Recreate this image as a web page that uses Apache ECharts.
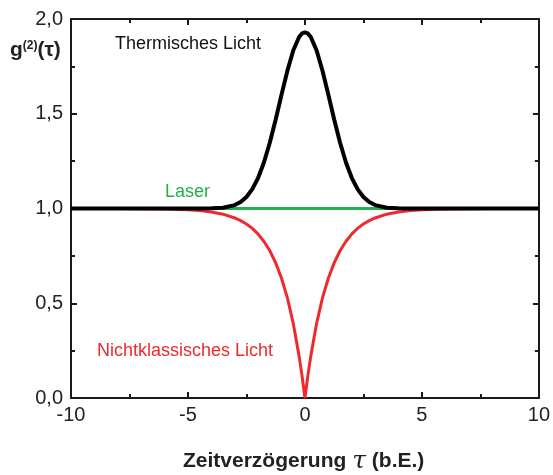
<!DOCTYPE html>
<html>
<head>
<meta charset="utf-8">
<script src="https://cdn.jsdelivr.net/npm/echarts@6/dist/echarts.min.js"></script>
<style>html,body{margin:0;padding:0;background:#fff}#c{width:553px;height:475px}</style>
</head>
<body>
<div id="c"></div>
<script>
// Time delay tau (arbitrary units)
var tau = [-10, -9, -8, -7, -6, -5, -4.5, -4, -3.5, -3, -2.75, -2.5, -2.25, -2, -1.75, -1.5, -1.25, -1, -0.75, -0.5, -0.25, -0.125, 0,
           0.125, 0.25, 0.5, 0.75, 1, 1.25, 1.5, 1.75, 2, 2.25, 2.5, 2.75, 3, 3.5, 4, 4.5, 5, 6, 7, 8, 9, 10];
// Thermal light g2
var thermal = [1, 1, 1, 1, 1, 1, 1, 1.001, 1.004, 1.018, 1.034, 1.061, 1.102, 1.162, 1.244, 1.348, 1.470, 1.601, 1.727, 1.834, 1.905, 1.924, 1.93,
               1.924, 1.905, 1.834, 1.727, 1.601, 1.470, 1.348, 1.244, 1.162, 1.102, 1.061, 1.034, 1.018, 1.004, 1.001, 1, 1, 1, 1, 1, 1, 1];
// Non-classical light g2
var nonclassical = [1, 1, 1, 0.999, 0.998, 0.993, 0.989, 0.982, 0.970, 0.950, 0.936, 0.918, 0.895, 0.865, 0.826, 0.777, 0.713, 0.632, 0.528, 0.394, 0.221, 0.118, 0,
                    0.118, 0.221, 0.394, 0.528, 0.632, 0.713, 0.777, 0.826, 0.865, 0.895, 0.918, 0.936, 0.950, 0.970, 0.982, 0.989, 0.993, 0.998, 0.999, 1, 1, 1];
// Laser g2
var laser = [1, 1];
var laserTau = [-10, 10];

var xTicks = [-10, -5, 0, 5, 10];
var yTicks = [0, 0.5, 1, 1.5, 2];

function pairs(xs, ys) { return xs.map(function (x, i) { return [x, ys[i]]; }); }

var axisCol = '#1a1a1a';
var FONT = 'Liberation Sans, Arial, sans-serif';

function xAx(pos, showLabel) {
  return {
    type: 'value', position: pos, min: -10, max: 10, interval: 5,
    axisLine: { show: true, onZero: false, lineStyle: { color: axisCol, width: 2 } },
    axisTick: { show: true, inside: true, length: 6, lineStyle: { color: axisCol, width: 2 } },
    minorTick: { show: true, splitNumber: 2, length: 4, lineStyle: { color: axisCol, width: 2 } },
    splitLine: { show: false },
    axisLabel: { show: showLabel, color: '#222', fontSize: 20, fontFamily: FONT, margin: 7,
      formatter: function (v) { return xTicks.indexOf(v) >= 0 ? String(v) : ''; } }
  };
}
function yAx(pos, showLabel) {
  return {
    type: 'value', position: pos, min: 0, max: 2, interval: 0.5,
    axisLine: { show: true, onZero: false, lineStyle: { color: axisCol, width: 2 } },
    axisTick: { show: true, inside: true, length: 6, lineStyle: { color: axisCol, width: 2 } },
    minorTick: { show: true, splitNumber: 2, length: 4, lineStyle: { color: axisCol, width: 2 } },
    splitLine: { show: false },
    axisLabel: { show: showLabel, color: '#222', fontSize: 20, fontFamily: FONT, margin: 8,
      formatter: function (v) { return yTicks.indexOf(v) >= 0 ? v.toFixed(1).replace('.', ',') : ''; } }
  };
}

var chart = echarts.init(document.getElementById('c'), null, { renderer: 'canvas' });
chart.setOption({
  animation: false,
  backgroundColor: '#ffffff',
  grid: { left: 71, right: 11, top: 19, bottom: 77, containLabel: false },
  xAxis: [xAx('bottom', true), xAx('top', false)],
  yAxis: [yAx('left', true), yAx('right', false)],
  series: [
    { type: 'line', name: 'Nichtklassisches Licht', data: pairs(tau, nonclassical), showSymbol: false,
      lineStyle: { color: '#ee2a2e', width: 3 }, z: 2 },
    { type: 'line', name: 'Laser', data: pairs(laserTau, laser), showSymbol: false,
      lineStyle: { color: '#22b14c', width: 3 }, z: 3 },
    { type: 'line', name: 'Thermisches Licht', data: pairs(tau, thermal), showSymbol: false,
      lineStyle: { color: '#000000', width: 4 }, z: 4 }
  ],
  graphic: [
    { type: 'text', left: 10, top: 40, style: {
        text: '{g|g}{s|(2)}{g|(τ)}',
        rich: { g: { fontSize: 21, fontWeight: 'bold', fontFamily: FONT, fill: '#222' },
                s: { fontSize: 12, fontWeight: 'bold', fontFamily: FONT, fill: '#222', verticalAlign: 'top', padding: [0, 0, 9, 0] } } } },
    { type: 'text', left: 115, top: 35, style: { text: 'Thermisches Licht', fontSize: 18, fontFamily: FONT, fill: '#111' } },
    { type: 'text', left: 165, top: 183, style: { text: 'Laser', fontSize: 18, fontFamily: FONT, fill: '#22b14c' } },
    { type: 'text', left: 97, top: 342, style: { text: 'Nichtklassisches Licht', fontSize: 18, fontFamily: FONT, fill: '#ee2a2e' } },
    { type: 'text', left: 183, top: 449, style: {
        text: '{b|Zeitverzögerung }{t|τ}{b| (b.E.)}',
        rich: { b: { fontSize: 21, fontWeight: 'bold', fontFamily: FONT, fill: '#222' },
                t: { fontSize: 25, fontStyle: 'italic', fontFamily: 'DejaVu Serif, serif', fill: '#222' } } } }
  ]
});
</script>
</body>
</html>
